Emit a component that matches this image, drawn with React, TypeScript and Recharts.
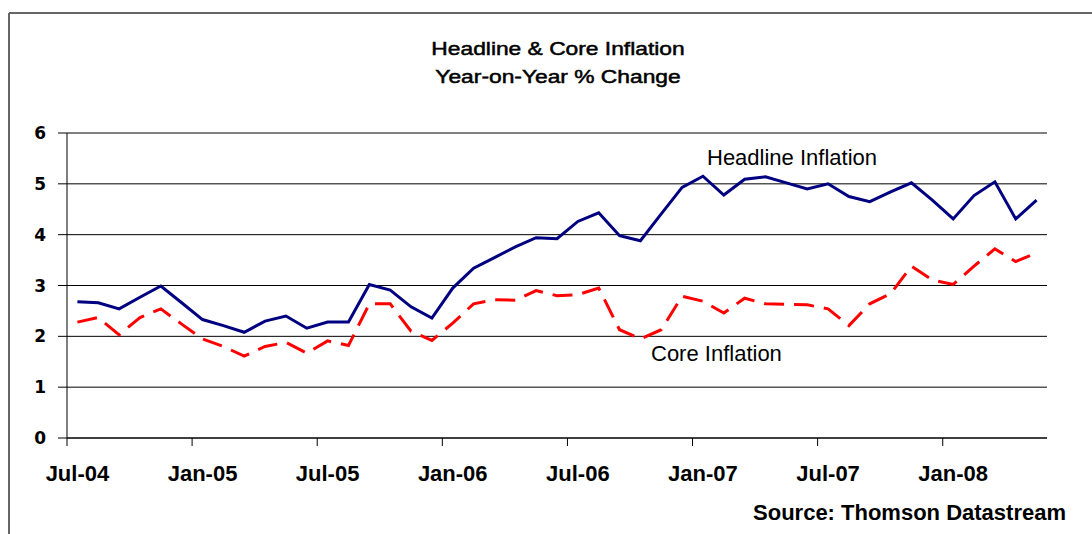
import { LineChart, Line, XAxis, YAxis, CartesianGrid } from "recharts";

const months = [
  "Jul-04", "Aug-04", "Sep-04", "Oct-04", "Nov-04", "Dec-04",
  "Jan-05", "Feb-05", "Mar-05", "Apr-05", "May-05", "Jun-05",
  "Jul-05", "Aug-05", "Sep-05", "Oct-05", "Nov-05", "Dec-05",
  "Jan-06", "Feb-06", "Mar-06", "Apr-06", "May-06", "Jun-06",
  "Jul-06", "Aug-06", "Sep-06", "Oct-06", "Nov-06", "Dec-06",
  "Jan-07", "Feb-07", "Mar-07", "Apr-07", "May-07", "Jun-07",
  "Jul-07", "Aug-07", "Sep-07", "Oct-07", "Nov-07", "Dec-07",
  "Jan-08", "Feb-08", "Mar-08", "Apr-08", "May-08",
];

const headline = [
  2.68, 2.66, 2.54, 2.77, 2.99, 2.66, 2.33, 2.21, 2.08, 2.3,
  2.4, 2.16, 2.28, 2.28, 3.02, 2.91, 2.58, 2.36, 2.95, 3.34,
  3.55, 3.76, 3.94, 3.92, 4.26, 4.43, 3.98, 3.88, 4.41, 4.93,
  5.15, 4.78, 5.09, 5.14, 5.02, 4.9, 5.0, 4.75, 4.65, 4.84,
  5.02, 4.68, 4.31, 4.77, 5.04, 4.31, 4.68,
];

const core = [
  2.28, 2.37, 2.03, 2.37, 2.54, 2.24, 1.95, 1.8, 1.61, 1.8,
  1.88, 1.67, 1.91, 1.82, 2.64, 2.64, 2.1, 1.92, 2.26, 2.64,
  2.72, 2.71, 2.9, 2.8, 2.82, 2.95, 2.13, 1.95, 2.13, 2.79,
  2.69, 2.46, 2.75, 2.64, 2.63, 2.62, 2.54, 2.21, 2.64, 2.84,
  3.38, 3.11, 3.02, 3.38, 3.72, 3.47, 3.64,
];

const yTicks = [0, 1, 2, 3, 4, 5, 6];

const data = months.map((month, i) => ({
  month,
  headline: headline[i],
  core: core[i],
}));

const FONT = "'Liberation Sans', Arial, sans-serif";
const X_TICK_SIZE = 8;
const X_TICK_MARGIN = 35;

// Excel style: tick marks sit between categories, labels on the category
function MonthTick(props: any) {
  const { x, y, payload, width } = props;
  const axisY = y - X_TICK_SIZE - X_TICK_MARGIN;
  const edge = x - width / months.length / 2;
  return (
    <g>
      <line x1={edge} x2={edge} y1={axisY} y2={axisY + X_TICK_SIZE} stroke="#000" />
      <text
        x={x}
        y={axisY + 43}
        textAnchor="middle"
        fontFamily={FONT}
        fontWeight="bold"
        fontSize={22}
        fill="#000"
      >
        {payload.value}
      </text>
    </g>
  );
}

export default function App() {
  return (
    <div style={{ position: "absolute", left: 0, top: 0, width: 1092, height: 534, background: "#fff" }}>
      <LineChart
        width={1092}
        height={534}
        data={data}
        margin={{ top: 133, right: 45, bottom: 36, left: 0 }}
      >
        <CartesianGrid horizontal vertical={false} stroke="#000" strokeWidth={1} />
        <XAxis
          dataKey="month"
          scale="band"
          interval={5}
          height={60}
          tickSize={X_TICK_SIZE}
          tickMargin={X_TICK_MARGIN}
          tickLine={false}
          axisLine={{ stroke: "#000", strokeWidth: 1 }}
          tick={<MonthTick />}
        />
        <YAxis
          domain={[0, 6]}
          ticks={yTicks}
          width={67}
          tickSize={9}
          tickMargin={12}
          axisLine={{ stroke: "#000" }}
          tickLine={{ stroke: "#000" }}
          tick={{ fontSize: 17, fontWeight: "bold", fontFamily: "'DejaVu Sans', sans-serif", fill: "#000" }}
        />
        <YAxis
          yAxisId="frame"
          orientation="right"
          width={0}
          tick={false}
          tickLine={false}
          axisLine={{ stroke: "#999" }}
        />
        <Line
          dataKey="headline"
          type="linear"
          stroke="#000080"
          strokeWidth={3}
          dot={false}
          isAnimationActive={false}
        />
        <Line
          dataKey="core"
          type="linear"
          stroke="#FF0000"
          strokeWidth={3}
          strokeDasharray="20 10"
          dot={false}
          isAnimationActive={false}
        />
      </LineChart>
      <svg
        width={1092}
        height={534}
        style={{ position: "absolute", left: 0, top: 0, pointerEvents: "none" }}
      >
        <line x1={9} y1={13} x2={1092} y2={13} stroke="#666" strokeWidth={2} />
        <line x1={9} y1={13} x2={9} y2={534} stroke="#666" strokeWidth={2} />
        <g fontFamily={FONT} fill="#000">
          <text
            transform="translate(558,55) scale(1.2,1)"
            textAnchor="middle"
            fontSize={19}
            stroke="#000"
            strokeWidth={0.5}
          >
            Headline &amp; Core Inflation
          </text>
          <text
            transform="translate(558,83) scale(1.2,1)"
            textAnchor="middle"
            fontSize={19}
            stroke="#000"
            strokeWidth={0.5}
          >
            Year-on-Year % Change
          </text>
          <text x={707} y={165} fontSize={22}>Headline Inflation</text>
          <text x={651} y={361} fontSize={22}>Core Inflation</text>
          <text x={1066} y={520} textAnchor="end" fontSize={22} fontWeight="bold">
            Source: Thomson Datastream
          </text>
        </g>
      </svg>
    </div>
  );
}
